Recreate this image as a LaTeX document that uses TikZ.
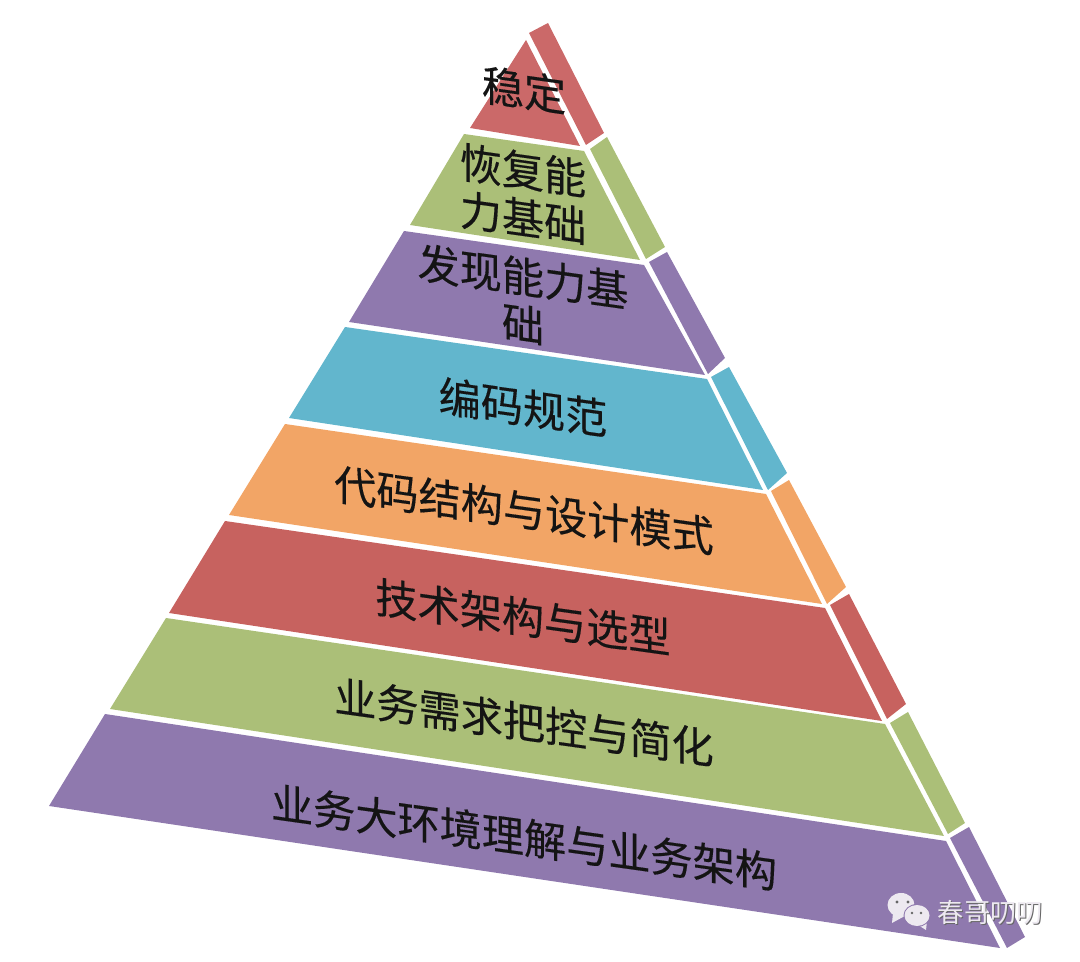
\documentclass[tikz,border=0pt]{standalone}
\usepackage{fontspec}
\usepackage{xcolor}
\usepackage{tikz}
\newfontfamily\cjk[FakeBold=0.3]{Noto Sans CJK SC}
\newfontfamily\cjkmark{Noto Sans CJK SC}
\definecolor{bandPurple}{HTML}{8F79AE}
\definecolor{bandGreen}{HTML}{ABBF78}
\definecolor{bandRed}{HTML}{C7625F}
\definecolor{bandTop}{HTML}{CB6969}
\definecolor{bandBlue}{HTML}{62B6CD}
\definecolor{bandOrange}{HTML}{F2A566}
\definecolor{markWhite}{HTML}{EDE9F0}

\begin{document}
\begin{tikzpicture}[
        x=0.02cm, y=-0.02cm,
        layer/.style={font=\cjk\fontsize{24}{27}\selectfont, text=black!92, align=center, inner sep=0pt, yslant=-0.14},
        markname/.style={font=\cjkmark\fontsize{15}{15}\selectfont, inner sep=0pt}
    ]
        \useasboundingbox (0,0) rectangle (1080,962);

        % Front faces
        \fill[bandTop] (526,40) -- (580,146) -- (470,128) -- cycle;
        \fill[bandGreen] (464,134) -- (584,151) -- (640,260) -- (410,225) -- cycle;
        \fill[bandPurple] (404,231) -- (644,265) -- (705,375) -- (349,322) -- cycle;
        \fill[bandBlue] (345,327) -- (707,379) -- (763,490) -- (289,418) -- cycle;
        \fill[bandOrange] (285,424) -- (766,494) -- (822,604) -- (229,515) -- cycle;
        \fill[bandRed] (225,521) -- (825,608) -- (882,721) -- (169,613) -- cycle;
        \fill[bandGreen] (166,618) -- (885,724) -- (944,836) -- (110,709) -- cycle;
        \fill[bandPurple] (105,714) -- (946,841) -- (1000,948) -- (49,806) -- cycle;

        % Side faces
        \fill[bandTop] (529,33) -- (548,23) -- (604,133) -- (586,145) -- cycle;
        \fill[bandGreen] (590,149) -- (607,137) -- (665,247) -- (646,259) -- cycle;
        \fill[bandPurple] (649,262) -- (667,252) -- (725,358) -- (708,374) -- cycle;
        \fill[bandBlue] (711,377) -- (729,367) -- (787,473) -- (768,490) -- cycle;
        \fill[bandOrange] (771,491) -- (789,480) -- (846,587) -- (827,604) -- cycle;
        \fill[bandRed] (830,605) -- (849,594) -- (906,704) -- (887,719) -- cycle;
        \fill[bandGreen] (890,723) -- (908,712) -- (965,823) -- (948,834) -- cycle;
        \fill[bandPurple] (950,838) -- (969,827) -- (1025,937) -- (1007,948) -- cycle;

        % Labels
        \node[layer] (stable) at (524,90) {稳定};
        \node[layer] (recover) at (523,194) {恢复能\\力基础};
        \node[layer] (detect) at (523,300) {发现能力基\\础};
        \node[layer] (coding) at (523,407) {编码规范};
        \node[layer] (design) at (524,510) {代码结构与设计模式};
        \node[layer] (tech) at (523,617) {技术架构与选型};
        \node[layer] (demand) at (524,722) {业务需求把控与简化};
        \node[layer] (business) at (524,837) {业务大环境理解与业务架构};

        % Watermark
        \fill[markWhite] (892,923) -- (893,913) -- (903,917) -- cycle;
        \fill[markWhite] (901,905) ellipse (13.5 and 12);
        \fill[markWhite] (926,930) -- (927,921) -- (918,925) -- cycle;
        \fill[bandPurple] (917,915.5) ellipse (13.5 and 11.5);
        \fill[markWhite] (917,915.5) ellipse (12.5 and 10.5);
        \fill[black!60] (897,902) circle (1.7) (908,902) circle (1.7) (912,913) circle (1.4) (921,913) circle (1.4);
        \node[markname, text=black!60] (markshadow) at (991.5,913.5) {春哥叨叨};
        \node[markname, text=markWhite] (markname) at (990.5,912.5) {春哥叨叨};

    \end{tikzpicture}
\end{document}
